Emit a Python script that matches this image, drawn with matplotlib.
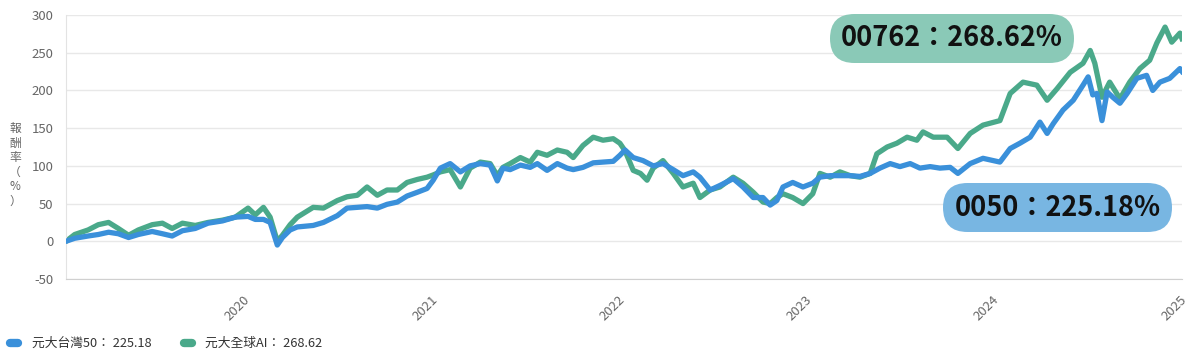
import pandas as pd
import matplotlib.pyplot as plt
from matplotlib.lines import Line2D
from matplotlib.patches import FancyBboxPatch
from matplotlib.transforms import IdentityTransform

plt.rcParams['font.family'] = ['Noto Sans CJK TC', 'DejaVu Sans']
plt.rcParams['axes.unicode_minus'] = False

# 元大台灣50 (0050) cumulative return, %
dates_0050 = [
    '2019-02-01', '2019-02-18', '2019-03-16', '2019-04-05', '2019-04-25', '2019-05-14',
    '2019-06-03', '2019-06-22', '2019-07-19', '2019-08-08', '2019-08-27', '2019-09-16',
    '2019-10-11', '2019-11-05', '2019-12-03', '2019-12-28', '2020-01-22', '2020-02-05',
    '2020-02-21', '2020-03-05', '2020-03-19', '2020-03-29', '2020-04-13', '2020-04-27',
    '2020-05-28', '2020-06-17', '2020-07-14', '2020-08-02', '2020-08-22', '2020-09-10',
    '2020-09-30', '2020-10-19', '2020-11-08', '2020-11-27', '2020-12-17', '2021-01-05',
    '2021-01-17', '2021-01-31', '2021-02-19', '2021-03-11', '2021-03-30', '2021-04-19',
    '2021-05-08', '2021-05-22', '2021-06-02', '2021-06-16', '2021-07-06', '2021-07-25',
    '2021-08-08', '2021-08-27', '2021-09-16', '2021-10-05', '2021-10-17', '2021-11-05',
    '2021-11-25', '2021-12-14', '2022-01-03', '2022-01-16', '2022-01-26', '2022-02-11',
    '2022-03-02', '2022-03-22', '2022-04-10', '2022-04-30', '2022-05-19', '2022-06-08',
    '2022-06-21', '2022-07-11', '2022-07-30', '2022-08-25', '2022-09-13', '2022-10-03',
    '2022-10-22', '2022-11-05', '2022-11-18', '2022-11-30', '2022-12-19', '2023-01-08',
    '2023-01-27', '2023-02-10', '2023-03-02', '2023-03-21', '2023-04-10', '2023-04-29',
    '2023-05-19', '2023-06-07', '2023-06-27', '2023-07-16', '2023-08-05', '2023-08-24',
    '2023-09-13', '2023-10-02', '2023-10-22', '2023-11-06', '2023-11-30', '2023-12-25',
    '2024-01-27', '2024-02-16', '2024-03-06', '2024-03-26', '2024-04-14', '2024-04-28',
    '2024-05-10', '2024-05-29', '2024-06-18', '2024-07-07', '2024-07-17', '2024-07-26',
    '2024-08-03', '2024-08-13', '2024-08-23', '2024-09-03', '2024-09-17', '2024-10-01',
    '2024-10-20', '2024-11-08', '2024-11-20', '2024-12-04', '2024-12-23', '2025-01-12',
    '2025-01-16',
]
ret_0050 = [
    0, 4, 7, 9, 12, 10,
    5, 9, 13, 10, 7, 14,
    17, 24, 27, 32, 33, 29,
    29, 25, -5, 5, 15, 19,
    21, 25, 34, 44, 45, 46,
    44, 49, 52, 60, 65, 70,
    81, 97, 103, 92, 100, 103,
    101, 80, 97, 95, 101, 98,
    103, 94, 103, 97, 95, 98,
    104, 105, 106, 114, 121, 111,
    107, 100, 103, 95, 87, 92,
    85, 68, 74, 83, 72, 58,
    58, 48, 54, 72, 78, 72,
    77, 85, 87, 87, 87, 86,
    90, 97, 103, 99, 103, 97,
    99, 97, 98, 90, 103, 110,
    105, 123, 130, 138, 158, 143,
    156, 174, 187, 207, 218, 194,
    196, 160, 198, 191, 183, 196,
    216, 220, 200, 211, 216, 229,
    225.18,
]

# 元大全球AI (00762) cumulative return, %
dates_00762 = [
    '2019-02-01', '2019-02-18', '2019-03-16', '2019-04-05', '2019-04-25', '2019-05-14',
    '2019-06-03', '2019-06-22', '2019-07-19', '2019-08-08', '2019-08-27', '2019-09-16',
    '2019-10-11', '2019-11-05', '2019-12-03', '2019-12-28', '2020-01-22', '2020-02-05',
    '2020-02-21', '2020-03-05', '2020-03-19', '2020-03-29', '2020-04-13', '2020-04-27',
    '2020-05-28', '2020-06-17', '2020-07-14', '2020-08-02', '2020-08-22', '2020-09-10',
    '2020-09-30', '2020-10-19', '2020-11-08', '2020-11-27', '2020-12-17', '2021-01-05',
    '2021-01-17', '2021-01-31', '2021-02-19', '2021-03-11', '2021-03-30', '2021-04-19',
    '2021-05-08', '2021-05-22', '2021-06-02', '2021-06-16', '2021-07-06', '2021-07-25',
    '2021-08-08', '2021-08-27', '2021-09-16', '2021-10-05', '2021-10-17', '2021-11-05',
    '2021-11-25', '2021-12-14', '2022-01-03', '2022-01-16', '2022-01-26', '2022-02-11',
    '2022-02-25', '2022-03-10', '2022-03-22', '2022-04-10', '2022-04-30', '2022-05-19',
    '2022-06-08', '2022-06-21', '2022-07-11', '2022-07-30', '2022-08-25', '2022-09-13',
    '2022-10-03', '2022-10-22', '2022-11-05', '2022-11-18', '2022-11-30', '2022-12-19',
    '2023-01-08', '2023-01-27', '2023-02-10', '2023-03-02', '2023-03-21', '2023-04-10',
    '2023-04-29', '2023-05-19', '2023-06-01', '2023-06-21', '2023-07-10', '2023-07-30',
    '2023-08-18', '2023-08-30', '2023-09-19', '2023-10-16', '2023-11-06', '2023-11-30',
    '2023-12-25', '2024-01-27', '2024-02-16', '2024-03-12', '2024-04-08', '2024-04-28',
    '2024-05-17', '2024-06-12', '2024-07-07', '2024-07-21', '2024-07-30', '2024-08-13',
    '2024-08-28', '2024-09-17', '2024-10-06', '2024-10-26', '2024-11-14', '2024-11-28',
    '2024-12-14', '2024-12-27', '2025-01-12', '2025-01-16',
]
ret_00762 = [
    0, 9, 15, 22, 25, 17,
    8, 15, 22, 24, 17, 24,
    21, 25, 28, 32, 44, 35,
    45, 32, 0, 8, 22, 32,
    45, 44, 54, 59, 61, 72,
    61, 68, 68, 78, 82, 85,
    88, 92, 95, 72, 97, 105,
    103, 87, 98, 103, 111, 105,
    118, 114, 121, 118, 111, 127,
    138, 134, 136, 130, 120, 94,
    90, 81, 97, 107, 90, 72,
    77, 58, 68, 72, 85, 77,
    65, 52, 50, 58, 63, 58,
    50, 63, 90, 85, 92, 87,
    85, 90, 116, 125, 130, 138,
    134, 145, 138, 138, 123, 143,
    154, 160, 196, 211, 207, 187,
    202, 224, 236, 253, 236, 191,
    211, 189, 211, 229, 240, 263,
    284, 264, 276, 268.62,
]

years = ['2020', '2021', '2022', '2023', '2024', '2025']
legend_labels = ['元大台灣50： 225.18', '元大全球AI： 268.62']
badge_labels = ['00762：268.62%', '0050：225.18%']

blue = '#3a90da'
green = '#4aa98a'

W, H = 1200, 358
fig = plt.figure(figsize=(W / 100, H / 100), dpi=100)
ax = fig.add_axes([66 / W, 1 - 279 / H, (1182 - 66) / W, (279 - 15) / H])

ax.plot(pd.to_datetime(dates_00762), ret_00762, color=green, lw=3.8,
        solid_joinstyle='round', zorder=2)
ax.plot(pd.to_datetime(dates_0050), ret_0050, color=blue, lw=3.8,
        solid_joinstyle='round', zorder=3)

ax.set_ylim(-50, 300)
ax.set_yticks(range(-50, 301, 50))
ax.set_xlim(pd.Timestamp(dates_0050[0]), pd.Timestamp(dates_0050[-1]))
ax.set_xticks(pd.to_datetime([y + '-01-01' for y in years]))
ax.set_xticklabels(years, rotation=45, ha='center')
ax.grid(axis='y', color='#e8e8e8', lw=1)
ax.set_axisbelow(True)
for side in ['top', 'right']:
    ax.spines[side].set_visible(False)
ax.spines['left'].set_color('#e3e3e3')
ax.spines['bottom'].set_color('#d0d0d0')
ax.tick_params(axis='both', length=0, colors='#666666', labelsize=9.5)
ax.tick_params(axis='y', pad=9)
ax.tick_params(axis='x', pad=10)

# stacked vertical y label
fig.text(15 / W, 1 - 165 / H, '報\n酬\n率\n（\n%\n）', ha='center', va='center',
         fontsize=8.5, color='#666666', linespacing=1.15)

# badges with final returns
badges = [(830, 14, 244, 49, '#8ac9b7', badge_labels[0]),
          (943, 183, 229, 49, '#78b6e2', badge_labels[1])]
for x0, y0, w, h, col, txt in badges:
    box = FancyBboxPatch((x0 + h / 2, H - y0 - h + h / 2), w - h, 0,
                         boxstyle='round,pad=%g,rounding_size=%g' % (h / 2, h / 2),
                         transform=IdentityTransform(), facecolor=col,
                         edgecolor='none', zorder=5)
    fig.add_artist(box)
    fig.text((x0 + w / 2) / W, 1 - (y0 + h / 2) / H, txt, ha='center', va='center',
             fontsize=19.5, fontweight='bold', color='#111111', zorder=6)

# legend at bottom
legend_items = [(6, 22, 32, blue, legend_labels[0]),
                (180, 196, 205, green, legend_labels[1])]
for xa, xb, xt, col, txt in legend_items:
    fig.add_artist(Line2D([(xa + 4) / W, (xb - 4) / W], [1 - 343 / H, 1 - 343 / H],
                          transform=fig.transFigure, color=col, lw=6,
                          solid_capstyle='round'))
    fig.text(xt / W, 1 - 343 / H, txt, ha='left', va='center', fontsize=9.2,
             color='#333333')

fig.savefig('out.png', dpi=100)
